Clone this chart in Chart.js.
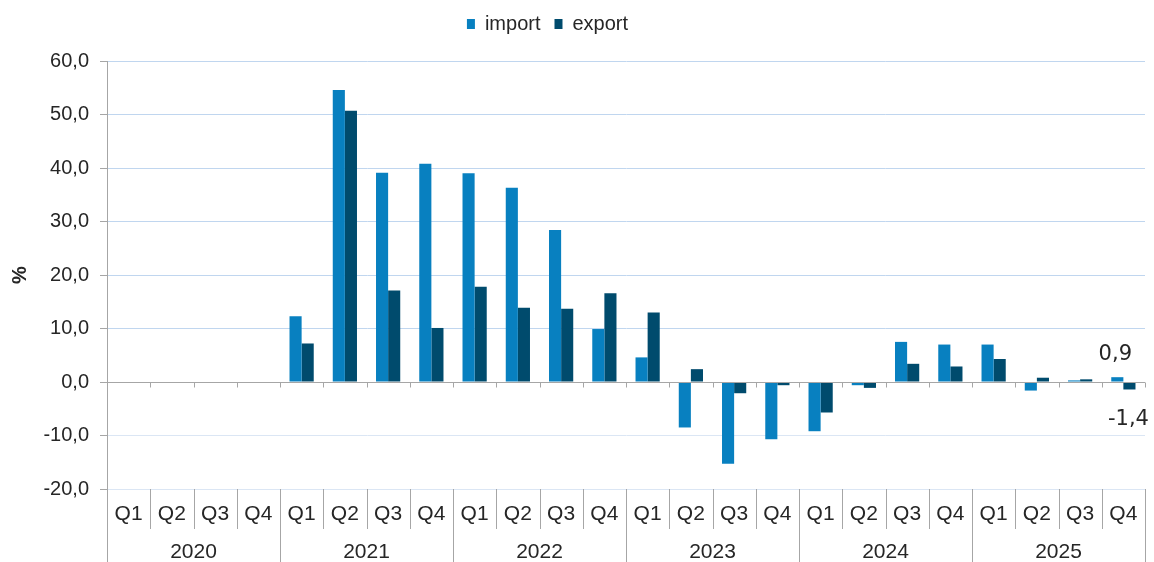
<!DOCTYPE html>
<html>
<head>
<meta charset="utf-8">
<script src="https://cdn.jsdelivr.net/npm/chart.js@4.4.0/dist/chart.umd.min.js"></script>
<style>
  html, body { margin: 0; padding: 0; background: #fff; }
  #wrap { width: 1154px; height: 562px; }
</style>
</head>
<body>
<div id="wrap"><canvas id="tradeChart" width="1154" height="562"></canvas></div>
<script>
const years = ['2020', '2021', '2022', '2023', '2024', '2025'];
const quarters = ['Q1', 'Q2', 'Q3', 'Q4'];
const importValues = [null, null, null, null, 12.3, 54.6, 39.1, 40.8, 39.0, 36.3, 28.4, 9.9, 4.6, -8.5, -15.3, -10.7, -9.2, -0.6, 7.5, 7.0, 7.0, -1.6, 0.3, 0.9];
const exportValues = [null, null, null, null, 7.2, 50.7, 17.1, 10.1, 17.8, 13.9, 13.7, 16.6, 13.0, 2.4, -2.1, -0.6, -5.7, -1.1, 3.4, 2.9, 4.3, 0.8, 0.5, -1.4];
const yMin = -20;
const yMax = 60;
const yStep = 10;
const labelledPoint = 23; // only the last quarter gets value labels

const categoryLabels = years.flatMap(() => quarters);
const FONT = '"Liberation Sans", Arial, sans-serif';
const AXIS_GREY = '#a6a6a6';
const TEXT = '#262626';

const fmt = v => v.toFixed(1).replace('.', ',');

// x pixel of the border between category i-1 and i
function boundary(chart, i) {
    const x = chart.scales.x;
    const n = categoryLabels.length;
    if (i <= 0) return chart.chartArea.left;
    if (i >= n) return chart.chartArea.right;
    return (x.getPixelForValue(i - 1) + x.getPixelForValue(i)) / 2;
}

const axisDecor = {
    id: 'axisDecor',
    beforeInit(chart) {
        // more room below the legend, and shift it a bit to the left
        const legend = chart.legend;
        const origFit = legend.fit;
        legend.fit = function () {
            origFit.call(this);
            this.height += 17;
            this.lineWidths[0] += 50;
        };
    },
    afterDatasetsDraw(chart) {
        const {ctx, chartArea} = chart;
        const y0 = Math.round(chart.scales.y.getPixelForValue(0)) + 0.5;
        ctx.save();
        ctx.strokeStyle = AXIS_GREY;
        ctx.lineWidth = 1;
        ctx.beginPath();
        ctx.moveTo(chartArea.left - 7, y0);
        ctx.lineTo(chartArea.right, y0);
        for (let i = 1; i <= categoryLabels.length; i++) {
            const bx = Math.round(boundary(chart, i)) + 0.5;
            ctx.moveTo(bx, y0);
            ctx.lineTo(bx, y0 + 5);
        }
        ctx.stroke();

        // value labels on the last quarter
        const imp = chart.getDatasetMeta(0).data[labelledPoint];
        const exp = chart.getDatasetMeta(1).data[labelledPoint];
        ctx.fillStyle = TEXT;
        ctx.font = '21px "DejaVu Sans", Verdana, sans-serif';
        ctx.textAlign = 'center';
        ctx.textBaseline = 'middle';
        ctx.fillText(fmt(importValues[labelledPoint]), imp.x - 2, imp.y - 23);
        ctx.fillText(fmt(exportValues[labelledPoint]), exp.x - 1, exp.y + 30);
        ctx.restore();
    },
    afterDraw(chart) {
        const {ctx, chartArea} = chart;
        const top = chartArea.bottom;
        const h = chart.height;
        ctx.save();
        ctx.strokeStyle = AXIS_GREY;
        ctx.lineWidth = 1;
        ctx.beginPath();
        for (let i = 0; i <= categoryLabels.length; i++) {
            const bx = Math.round(boundary(chart, i)) + 0.5;
            ctx.moveTo(bx, top);
            ctx.lineTo(bx, i % 4 === 0 ? h : top + 40);
        }
        ctx.stroke();

        ctx.fillStyle = TEXT;
        ctx.font = '21px ' + FONT;
        ctx.textAlign = 'center';
        ctx.textBaseline = 'middle';
        years.forEach((yr, k) => {
            const cx = (boundary(chart, k * 4) + boundary(chart, k * 4 + 4)) / 2;
            ctx.fillText(yr, cx, top + 63);
        });
        ctx.restore();
    }
};

new Chart(document.getElementById('tradeChart'), {
    type: 'bar',
    data: {
        labels: categoryLabels,
        datasets: [
            {
                label: 'import',
                data: importValues,
                backgroundColor: '#0880c0',
                borderWidth: 0,
                categoryPercentage: 0.56,
                barPercentage: 1.0
            },
            {
                label: 'export',
                data: exportValues,
                backgroundColor: '#004b6d',
                borderWidth: 0,
                categoryPercentage: 0.56,
                barPercentage: 1.0
            }
        ]
    },
    options: {
        responsive: false,
        devicePixelRatio: 1,
        animation: false,
        layout: {
            padding: { left: 0, right: 9, top: 0, bottom: 0 }
        },
        plugins: {
            legend: {
                position: 'top',
                labels: {
                    boxWidth: 8,
                    boxHeight: 10,
                    padding: 14,
                    color: TEXT,
                    font: { family: FONT, size: 20 }
                }
            },
            tooltip: { enabled: false }
        },
        scales: {
            x: {
                afterFit: scale => { scale.height = 73; },
                grid: { display: false, drawTicks: false },
                border: { display: false },
                ticks: {
                    autoSkip: false,
                    maxRotation: 0,
                    padding: 13,
                    color: TEXT,
                    font: { family: FONT, size: 21 }
                }
            },
            y: {
                min: yMin,
                max: yMax,
                afterFit: scale => { scale.width = 107; },
                ticks: {
                    stepSize: yStep,
                    padding: 11,
                    color: TEXT,
                    font: { family: FONT, size: 20 },
                    callback: v => fmt(v)
                },
                grid: {
                    color: ctx => ctx.tick.value === 0 ? AXIS_GREY : (ctx.tick.value < 0 ? '#dbe6f4' : '#c0d6ef'),
                    lineWidth: 1,
                    drawTicks: true,
                    tickLength: 7,
                    tickColor: AXIS_GREY
                },
                border: { display: true, color: AXIS_GREY, width: 1 },
                title: {
                    display: true,
                    text: '%',
                    color: TEXT,
                    padding: { top: 8, bottom: 0 },
                    font: { family: FONT, size: 20, weight: 'bold' }
                }
            }
        }
    },
    plugins: [axisDecor]
});
</script>
</body>
</html>
